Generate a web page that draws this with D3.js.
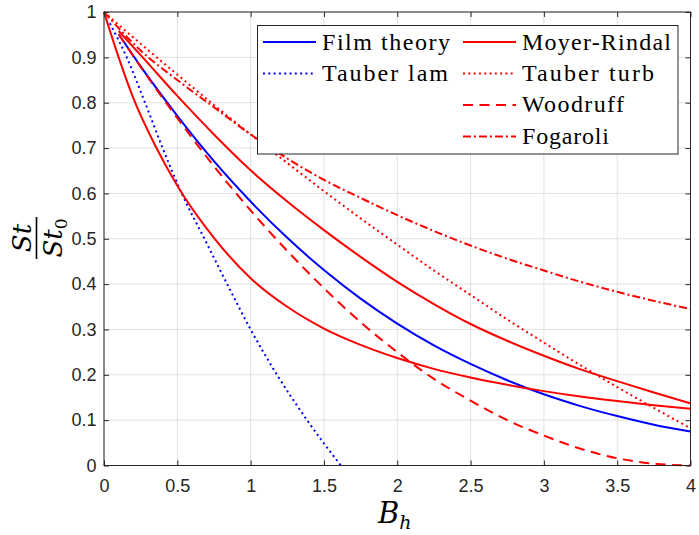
<!DOCTYPE html>
<html><head><meta charset="utf-8">
<script src="https://cdn.jsdelivr.net/npm/d3@7"></script>
<style>
body{margin:0;background:#fff}svg{display:block}
.tick text{font-family:"Liberation Sans", Arimo, Arial, Helvetica, sans-serif;}
.lgtext{font-family:"Liberation Serif", Tinos, "Times New Roman", Times, "DejaVu Serif", serif;}
.math{font-family:"DejaVu Serif", serif;}
</style>
</head><body><svg id="c" width="699" height="535"></svg>
<script>
// ---- data ----
const xTicks = [0,0.5,1,1.5,2,2.5,3,3.5,4];
const yTicks = [0,0.1,0.2,0.3,0.4,0.5,0.6,0.7,0.8,0.9,1];
const bhFrom0  = [0,0.25,0.5,0.75,1,1.25,1.5,1.75,2,2.25,2.5,2.75,3,3.25,3.5,3.75,4];
const bhFrom01 = [0.1,0.25,0.5,0.75,1,1.25,1.5,1.75,2,2.25,2.5,2.75,3,3.25,3.5,3.75,4];
const filmTheory = [0.951,0.880,0.771,0.671,0.582,0.502,0.431,0.368,0.313,0.265,0.224,0.188,0.157,0.131,0.109,0.090,0.075];
const woodruff   = [0.951,0.879,0.766,0.660,0.5625,0.473,0.391,0.316,0.250,0.191,0.143,0.100,0.066,0.037,0.016,0.004,0];
const moyerUpper = [0.958,0.905,0.815,0.730,0.651,0.582,0.519,0.460,0.405,0.356,0.312,0.275,0.242,0.212,0.186,0.161,0.137];
const tauberTurb = [1,0.930,0.862,0.795,0.730,0.667,0.605,0.545,0.487,0.430,0.376,0.322,0.271,0.221,0.173,0.127,0.082];
const fogaroli   = [1,0.915,0.850,0.790,0.730,0.677,0.630,0.590,0.552,0.517,0.485,0.456,0.430,0.405,0.383,0.363,0.345];
const moyerLowerX = [0,0.1,0.2,0.35,0.5,0.75,1,1.25,1.5,1.75,2,2.25,2.5,2.75,3,3.25,3.5,3.75,4];
const moyerLower  = [1,0.900,0.810,0.705,0.617,0.502,0.413,0.350,0.302,0.266,0.237,0.213,0.194,0.178,0.164,0.152,0.142,0.133,0.125];
const tauberLamX = [0.04,0.155,0.28,0.40,0.53,0.685,0.84,1.0,1.18,1.385,1.615];
const tauberLam  = [0.975,0.9,0.8,0.7,0.6,0.5,0.4,0.3,0.2,0.1,0];
const legendCol1 = ["Film theory","Tauber lam"];
const legendCol2 = ["Moyer-Rindal","Tauber turb","Woodruff","Fogaroli"];

// ---- layout ----
const svg = d3.select("#c");
const L = 104, R = 690.5, T = 12, B = 465.5;
const x = d3.scaleLinear().domain([0,4]).range([L,R]);
const y = d3.scaleLinear().domain([0,1]).range([B,T]);
const axisCol = "#262626";
const BLUE = "#0000ff", RED = "#ff0000";
const DOT = "2,3.3", DASH = "10,6.5", DASHDOT = "8,3,2,3";

// grid
svg.append("g").selectAll("line").data(xTicks).join("line")
  .attr("x1", d=>x(d)).attr("x2", d=>x(d)).attr("y1", T).attr("y2", B)
  .attr("stroke", "#e0e0e0").attr("stroke-width", 1);
svg.append("g").selectAll("line").data(yTicks).join("line")
  .attr("y1", d=>y(d)).attr("y2", d=>y(d)).attr("x1", L).attr("x2", R)
  .attr("stroke", "#e0e0e0").attr("stroke-width", 1);

// series
const series = [
  {xs: bhFrom01, ys: filmTheory, color: BLUE, dash: null},
  {xs: tauberLamX, ys: tauberLam, color: BLUE, dash: DOT},
  {xs: bhFrom01, ys: moyerUpper, color: RED, dash: null},
  {xs: moyerLowerX, ys: moyerLower, color: RED, dash: null},
  {xs: bhFrom0, ys: tauberTurb, color: RED, dash: DOT},
  {xs: bhFrom01, ys: woodruff, color: RED, dash: DASH},
  {xs: bhFrom0, ys: fogaroli, color: RED, dash: DASHDOT}
];
const line = d3.line().x(d=>x(d[0])).y(d=>y(d[1])).curve(d3.curveMonotoneX);
svg.append("g").selectAll("path").data(series).join("path")
  .attr("d", s => line(s.xs.map((v,i)=>[v, s.ys[i]])))
  .attr("fill","none").attr("stroke", s=>s.color).attr("stroke-width", 2)
  .attr("stroke-dasharray", s=>s.dash);

// axes
const fmt = d => String(d);
const ax = (g) => {
  g.attr("font-family", null).attr("font-size", null);
  g.selectAll("path.domain").remove();
  g.selectAll("line").attr("stroke", axisCol);
  g.selectAll("text").attr("fill", axisCol).style("font-size", "18px");
};
svg.append("g").attr("transform",`translate(0,${B})`)
  .call(d3.axisBottom(x).tickValues(xTicks).tickFormat(fmt).tickSize(-5).tickSizeOuter(0).tickPadding(13.5)).call(ax);
svg.append("g").attr("transform",`translate(${L},0)`)
  .call(d3.axisLeft(y).tickValues(yTicks).tickFormat(fmt).tickSize(-5).tickSizeOuter(0).tickPadding(7.5)).call(ax);
svg.append("g").attr("transform",`translate(0,${T})`)
  .call(d3.axisTop(x).tickValues(xTicks).tickFormat("").tickSize(-5).tickSizeOuter(0)).call(ax);
svg.append("g").attr("transform",`translate(${R},0)`)
  .call(d3.axisRight(y).tickValues(yTicks).tickFormat("").tickSize(-5).tickSizeOuter(0)).call(ax);
svg.append("rect").attr("x",L).attr("y",T).attr("width",R-L).attr("height",B-T)
  .attr("fill","none").attr("stroke",axisCol).attr("stroke-width",1);

// legend
const lg = svg.append("g");
lg.append("rect").attr("x",257.5).attr("y",25.5).attr("width",420.5).attr("height",128.5)
  .attr("fill","#fff").attr("stroke",axisCol).attr("stroke-width",1);
const rowY = [42, 73.4, 104.9, 136.4];
const col1Style = [{c:BLUE,d:null,w:128},{c:BLUE,d:DOT,w:126}];
const col2Style = [{c:RED,d:null,w:149},{c:RED,d:DOT,w:132},{c:RED,d:DASH,w:102},{c:RED,d:DASHDOT,w:87}];
function legendItem(x0, yy, label, st){
  lg.append("line").attr("x1",x0).attr("x2",x0+53).attr("y1",yy).attr("y2",yy)
    .attr("stroke",st.c).attr("stroke-width",2).attr("stroke-dasharray",st.d);
  lg.append("text").attr("class","lgtext").attr("x",x0+59).attr("y",yy+7.5).text(label)
    .style("font-size","24px")
    .attr("fill","#000").attr("textLength",st.w).attr("lengthAdjust","spacing");
}
legendCol1.forEach((t,i)=>legendItem(263, rowY[i], t, col1Style[i]));
legendCol2.forEach((t,i)=>legendItem(463, rowY[i], t, col2Style[i]));

// x label
const xl = svg.append("text").attr("class","math").attr("x",378).attr("y",523)
  .attr("font-style","italic").attr("fill","#000");
xl.append("tspan").style("font-size","29px").text("B");
xl.append("tspan").style("font-size","19px").attr("dy",6).text("h");

// y label (fraction)
const yl = svg.append("g").attr("class","math").attr("transform","translate(36.5,238) rotate(-90)")
  .attr("fill","#000");
yl.append("text").attr("x",0).attr("y",-6).attr("text-anchor","middle")
  .attr("font-style","italic").style("font-size","26px").text("St");
yl.append("line").attr("x1",-21).attr("x2",21).attr("y1",0).attr("y2",0)
  .attr("stroke","#000").attr("stroke-width",1.6);
const den = yl.append("text").attr("x",0).attr("y",25).attr("text-anchor","middle");
den.append("tspan").attr("font-style","italic").style("font-size","26px").text("St");
den.append("tspan").style("font-size","17px").attr("dy",5).text("0");
</script></body></html>
